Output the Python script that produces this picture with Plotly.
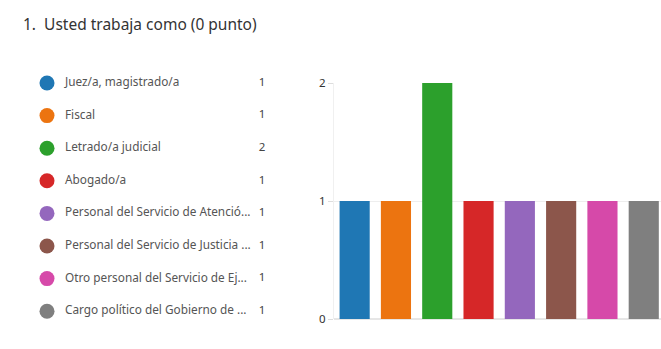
import plotly.graph_objects as go

title = "1.  Usted trabaja como (0 punto)"
categories = [
    "Juez/a, magistrado/a",
    "Fiscal",
    "Letrado/a judicial",
    "Abogado/a",
    "Personal del Servicio de Atenció...",
    "Personal del Servicio de Justicia ...",
    "Otro personal del Servicio de Ej...",
    "Cargo político del Gobierno de ...",
]
counts = [1, 1, 2, 1, 1, 1, 1, 1]
colors = ["#1f77b4", "#ec7410", "#2ca02c", "#d62728", "#9467bd", "#8c564b", "#d649a9", "#7f7f7f"]
y_ticks = [0, 1, 2]

W, H = 661, 349
idx = list(range(len(categories)))

fig = go.Figure()

# Bars
fig.add_trace(go.Bar(
    x=idx, y=counts, marker=dict(color=colors, line=dict(width=0)),
    xaxis="x", yaxis="y", showlegend=False, hoverinfo="skip",
))

# Legend markers
fig.add_trace(go.Scatter(
    x=[47] * len(idx), y=idx, mode="markers",
    marker=dict(color=colors, size=15, symbol="circle"),
    xaxis="x2", yaxis="y2", showlegend=False, cliponaxis=False, hoverinfo="skip",
))
# Legend labels
fig.add_trace(go.Scatter(
    x=[65] * len(idx), y=idx, mode="text", text=categories,
    textposition="middle right",
    textfont=dict(family="Noto Sans", size=11.8, color="#555555"),
    xaxis="x2", yaxis="y2", showlegend=False, cliponaxis=False, hoverinfo="skip",
))
# Legend counts
fig.add_trace(go.Scatter(
    x=[262] * len(idx), y=idx, mode="text", text=[str(c) for c in counts],
    textposition="middle center",
    textfont=dict(family="Noto Sans", size=11.5, color="#444444"),
    xaxis="x2", yaxis="y2", showlegend=False, cliponaxis=False, hoverinfo="skip",
))

top, bottom = 83.3, 319.3
pitch = 32.6
span = bottom - top
y2_top = -0.0
y2_bot = span / pitch

x_left = 334.0
bar_pitch = 41.3
x_right_val = -0.5 + (W - x_left) / bar_pitch

fig.update_layout(
    width=W, height=H,
    margin=dict(l=0, r=0, t=top, b=H - bottom),
    paper_bgcolor="white", plot_bgcolor="white",
    bargap=0.27,
    font=dict(family="Noto Sans", color="#333333"),
    xaxis=dict(domain=[x_left / W, 1], range=[-0.5, x_right_val],
               showticklabels=False, showgrid=False, zeroline=False, ticks=""),
    yaxis=dict(range=[0, 2], tickvals=y_ticks, anchor="x",
               showgrid=True, gridcolor="#eeeeee", gridwidth=1,
               zeroline=True, zerolinecolor="#e6e6e6",
               showline=True, linecolor="#f0f0f0",
               ticks="outside", ticklen=5, tickcolor="#dddddd",
               tickfont=dict(family="Noto Sans", size=11.5, color="#333333")),
    xaxis2=dict(domain=[0, 300 / W], range=[0, 300], visible=False),
    yaxis2=dict(domain=[0, 1], range=[y2_bot, y2_top], anchor="x2", visible=False),
    annotations=[dict(
        text=title, xref="paper", yref="paper",
        x=21 / W, xanchor="left", y=1 + (top - 24) / span, yanchor="middle",
        showarrow=False, font=dict(family="Noto Sans", size=15.5, color="#333333"),
    )],
)

fig.write_html("out.html", config={"displayModeBar": False},
               post_script="document.body.style.margin='0';")
